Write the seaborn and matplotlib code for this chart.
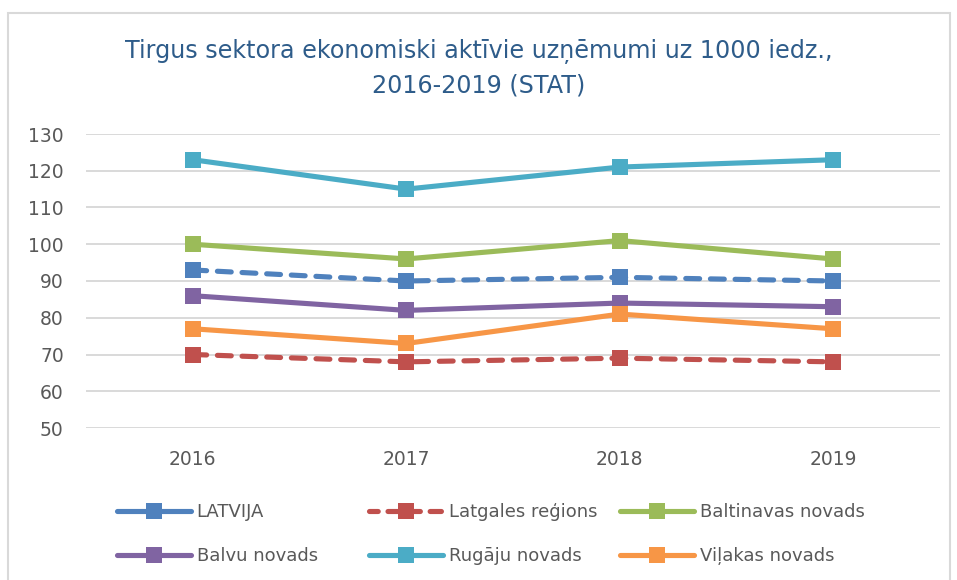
import matplotlib
matplotlib.use("Agg")
import matplotlib.pyplot as plt
from matplotlib.lines import Line2D
from matplotlib.patches import Rectangle
import seaborn as sns
import pandas as pd

years = ["2016", "2017", "2018", "2019"]
series_names = ["LATVIJA", "Latgales reģions", "Baltinavas novads",
                "Balvu novads", "Rugāju novads", "Viļakas novads"]
latvija = [93, 90, 91, 90]
latgales = [70, 68, 69, 68]
baltinavas = [100, 96, 101, 96]
balvu = [86, 82, 84, 83]
rugaju = [123, 115, 121, 123]
vilakas = [77, 73, 81, 77]
values = [latvija, latgales, baltinavas, balvu, rugaju, vilakas]
yticks = [50, 60, 70, 80, 90, 100, 110, 120, 130]
title = "Tirgus sektora ekonomiski aktīvie uzņēmumi uz 1000 iedz.,\n2016-2019 (STAT)"

colors = ["#4F81BD", "#C0504D", "#9BBB59", "#8064A2", "#4BACC6", "#F79646"]
dashed = [True, True, False, False, False, False]
legend_dashed = [False, True, False, False, False, False]

rows = []
for name, vals in zip(series_names, values):
    for i, (yr, v) in enumerate(zip(years, vals)):
        rows.append({"year": i, "series": name, "value": v})
df = pd.DataFrame(rows)

sns.set_theme(style="white")
plt.rcParams['font.family'] = ['DejaVu Sans']

fig = plt.figure(figsize=(9.57, 5.8), dpi=100)
ax = fig.add_axes([86/957, 1-428/580, (940-86)/957, (428-134)/580])

palette = dict(zip(series_names, colors))
dash_map = {n: ((2.7, 2.1) if d else "") for n, d in zip(series_names, dashed)}
sns.lineplot(data=df, x="year", y="value", hue="series", style="series",
             hue_order=series_names, style_order=series_names,
             palette=palette, dashes=dash_map, markers={n: "s" for n in series_names},
             markersize=11, markeredgewidth=0, linewidth=3.7, legend=False, ax=ax)
for ln in ax.lines:
    ln.set_dash_capstyle("round")
    ln.set_solid_capstyle("round")
    ln.set_solid_joinstyle("round")

ax.set_xlim(-0.5, 3.5)
ax.set_ylim(50, 130)
ax.set_yticks(yticks)
ax.set_xticks(range(len(years)))
ax.set_xticklabels(years)
ax.set_xlabel("")
ax.set_ylabel("")
ax.grid(axis="y", color="#D9D9D9", linewidth=1.4)
ax.set_axisbelow(True)
for s in ax.spines.values():
    s.set_visible(False)
ax.tick_params(axis="y", length=0, pad=16, labelsize=13.5, labelcolor="#595959")
ax.tick_params(axis="x", length=0, pad=16, labelsize=13.5, labelcolor="#595959")

fig.text(0.5, 1-68/580, title, ha="center", va="center", fontsize=17.2,
         color="#2E5C8A", linespacing=1.5)

# Legend: three columns
cols_x = [120, 372, 623]
order = [[0, 3], [1, 4], [2, 5]]
for cx, idxs in zip(cols_x, order):
    handles = []
    labels = []
    for i in idxs:
        h = Line2D([0], [0], color=colors[i], lw=3.7, marker="s", markersize=11,
                   markeredgewidth=0, solid_capstyle="round", dash_capstyle="round",
                   linestyle=(0.5, (2.2, 1.9)) if legend_dashed[i] else "-")
        handles.append(h)
        labels.append(series_names[i])
    leg = fig.legend(handles, labels, loc="upper left",
                     bbox_to_anchor=(cx/957 - 0.003, 1-503/580), frameon=False,
                     fontsize=13, labelcolor="#595959", handlelength=4.1,
                     handletextpad=0.3, labelspacing=1.45, borderpad=0, borderaxespad=0)

fig.patches.append(Rectangle((8/957, -0.05), (950-8)/957, 1.05-13/580 + 0.0,
                             transform=fig.transFigure, fill=False,
                             edgecolor="#D9D9D9", linewidth=1.5))

fig.savefig("out.png", dpi=100)
